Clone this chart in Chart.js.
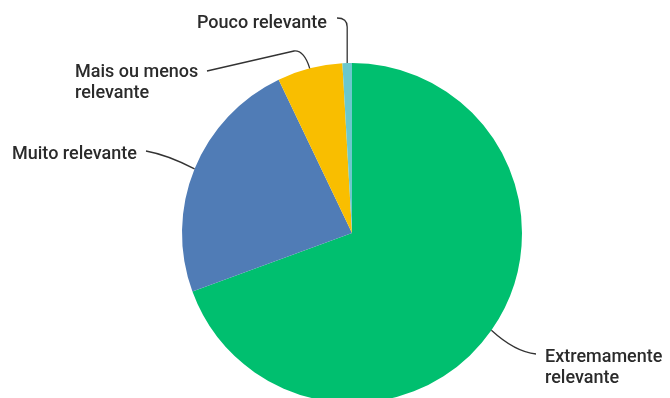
<!DOCTYPE html>
<html>
<head>
<meta charset="utf-8">
<script src="https://cdn.jsdelivr.net/npm/chart.js@4"></script>
<style>
	html, body { margin: 0; padding: 0; background: #fff; overflow: hidden; }
	#pie { position: absolute; left: 0; top: 0; }
</style>
</head>
<body>
<canvas id="pie" width="670" height="410"></canvas>
<script>
let labels = [['Extremamente', 'relevante'], ['Muito relevante'], ['Mais ou menos', 'relevante'], ['Pouco relevante']];
let shares = [69.4, 23.5, 6.2, 0.9];
let colors = ['#00bf6f', '#507cb6', '#f9be00', '#6bc8cd'];

// where each callout sits, and the bend of its leader line
let callouts = [
	{x: 545, y: 362, lead: (ctx, p) => { ctx.moveTo(p.x, p.y); ctx.quadraticCurveTo(515, 352, 536, 354); }},
	{x: 12, y: 159, lead: (ctx, p) => { ctx.moveTo(p.x, p.y); ctx.quadraticCurveTo(168, 155, 146, 151); }},
	{x: 75, y: 77, lead: (ctx, p) => { ctx.moveTo(p.x, p.y); ctx.quadraticCurveTo(304, 50, 294, 51); ctx.lineTo(207, 71); }},
	{x: 197, y: 28, lead: (ctx, p) => { ctx.moveTo(p.x, p.y); ctx.lineTo(p.x, 27); ctx.quadraticCurveTo(p.x, 18, 337, 18); }}
];

let calloutPlugin = {
	id: 'callouts',
	afterDraw(chart) {
		let ctx = chart.ctx;
		let arcs = chart.getDatasetMeta(0).data;
		ctx.save();
		ctx.strokeStyle = '#333';
		ctx.lineWidth = 1.3;
		ctx.fillStyle = '#2b2b2b';
		ctx.font = '500 18px Roboto';
		ctx.textBaseline = 'alphabetic';
		arcs.forEach((arc, i) => {
			let mid = (arc.startAngle + arc.endAngle) / 2;
			let p = {x: arc.x + Math.cos(mid) * arc.outerRadius, y: arc.y + Math.sin(mid) * arc.outerRadius};
			ctx.beginPath();
			callouts[i].lead(ctx, p);
			ctx.stroke();
			labels[i].forEach((line, j) => {
				ctx.fillText(line, callouts[i].x, callouts[i].y + j * 21);
			});
		});
		ctx.restore();
	}
};

new Chart(document.querySelector('#pie'), {
	type: 'pie',
	data: {
		labels: labels,
		datasets: [{
			data: shares,
			backgroundColor: colors,
			borderWidth: 0
		}]
	},
	options: {
		responsive: false,
		animation: false,
		layout: {padding: {left: 182, right: 148, top: 63, bottom: 7}},
		plugins: {
			legend: {display: false},
			tooltip: {enabled: false}
		}
	},
	plugins: [calloutPlugin]
});
</script>
</body>
</html>
